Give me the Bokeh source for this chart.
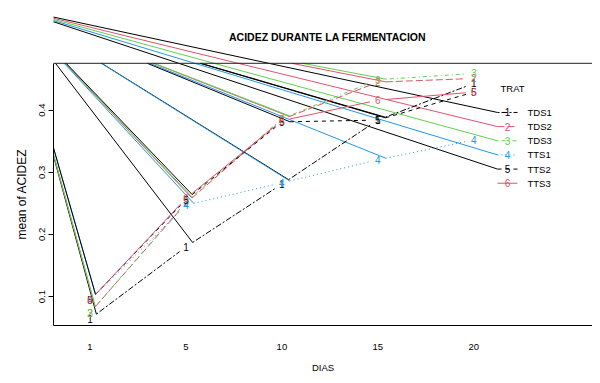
import math
from bokeh.plotting import figure
from bokeh.models import Span, Title, ColumnDataSource
from bokeh.embed import file_html
from bokeh.resources import INLINE
from bokeh.core.properties import value

# ---------------- data ----------------
DIAS = ["1", "5", "10", "15", "20"]
TRAT = ["TDS1", "TDS2", "TDS3", "TTS1", "TTS2", "TTS3"]
PCH = ["1", "2", "3", "4", "5", "6"]
TDS1 = [0.064, 0.180, 0.281, 0.384, 0.443]
TDS2 = [0.074, 0.250, 0.385, 0.445, 0.451]
TDS3 = [0.074, 0.252, 0.386, 0.449, 0.459]
TTS1 = [0.094, 0.247, 0.283, 0.320, 0.352]
TTS2 = [0.094, 0.256, 0.381, 0.384, 0.429]
TTS3 = [0.094, 0.258, 0.383, 0.416, 0.429]
Y_TICKS = [0.1, 0.2, 0.3, 0.4]
SERIES = [TDS1, TDS2, TDS3, TTS1, TTS2, TTS3]

# ---------------- styles ----------------
COLORS = ["#000000", "#DF536B", "#61D04F", "#2297E6", "#000000", "#DF536B"]
DASHES = ["2 2 6 2", "7 3", "1 3 4 3", "1 3", "4 4", "solid"]
FONT = "Liberation Sans"

W, H = 592, 375
BL, BT, BR, BB = 53, 0, 0, 49
FW, FH = W - BL - BR, H - BT - BB
PXX, PXY = 95.95, 623.3            # pixels per x-position / per y-unit
X0 = 0.6196
X1 = X0 + FW / PXX
Y0 = 0.0534
Y1 = Y0 + FH / PXY
BOX_TOP_PX = 63
YBOX = Y1 - (BOX_TOP_PX - BT) / PXY


def px(xc, yc):
    """canvas pixel -> data coordinates (layout helper)"""
    return X0 + (xc - BL) / PXX, Y1 - (yc - BT) / PXY


OX, OY = px(13, 8)                  # the point all dashed paths start from
GAP = 8.0

p = figure(width=W, height=H, x_range=(X0, X1), y_range=(Y0, Y1),
           output_backend="svg", toolbar_location=None,
           min_border_left=BL, min_border_top=BT, min_border_right=BR,
           min_border_bottom=BB, background_fill_color="white",
           border_fill_color="white")
p.outline_line_color = None
p.xgrid.visible = False
p.ygrid.visible = False

# ---------------- series segments (type = "b") ----------------
seg_lines = []
origin_lines = {"x0": [], "y0": [], "x1": [], "y1": [], "c": []}
for s, vals in enumerate(SERIES):
    d = {"x0": [], "y0": [], "x1": [], "y1": []}
    for k in range(len(vals) - 1):
        xa, ya, xb, yb = k + 1, vals[k], k + 2, vals[k + 1]
        dxp, dyp = (xb - xa) * PXX, (yb - ya) * PXY
        L = math.hypot(dxp, dyp)
        ux, uy = dxp / L, dyp / L
        sx, sy = xa + GAP * ux / PXX, ya + GAP * uy / PXY
        ex, ey = xb - GAP * ux / PXX, yb - GAP * uy / PXY
        d["x0"].append(sx); d["y0"].append(sy)
        d["x1"].append(ex); d["y1"].append(ey)
        if DASHES[s] != "solid":
            # stray path from the corner, clipped to the plot box
            t = (YBOX - OY) / (sy - OY)
            cx = OX + t * (sx - OX)
            origin_lines["x0"].append(cx); origin_lines["y0"].append(YBOX)
            origin_lines["x1"].append(sx); origin_lines["y1"].append(sy)
            origin_lines["c"].append(COLORS[s])
    seg_lines.append(d)

# ---------------- legend geometry ----------------
LEG_X0, LEG_X1, LEG_XT, LEG_TOP, LEG_STEP = 497, 517, 527, 112.3, 14.2
leg_rows = []
for i in range(len(TRAT)):
    yc = LEG_TOP + i * LEG_STEP
    xa, yy = px(LEG_X0, yc)
    xb, _ = px(LEG_X1, yc)
    xm, _ = px((LEG_X0 + LEG_X1) / 2, yc)
    xt, _ = px(LEG_XT, yc)
    leg_rows.append((xa, xb, xm, xt, yy))
    if DASHES[i] != "solid":
        origin_lines["x0"].append(OX); origin_lines["y0"].append(OY)
        origin_lines["x1"].append(xa); origin_lines["y1"].append(yy)
        origin_lines["c"].append(COLORS[i])

p.segment(x0="x0", y0="y0", x1="x1", y1="y1", line_color="c", line_width=1,
          source=ColumnDataSource(origin_lines))
for s, d in enumerate(seg_lines):
    p.segment(x0="x0", y0="y0", x1="x1", y1="y1", source=ColumnDataSource(d),
              line_color=COLORS[s], line_width=1, line_dash=DASHES[s])

lab = {"x": [], "y": [], "t": [], "c": []}
for s, vals in enumerate(SERIES):
    for k, v in enumerate(vals):
        lab["x"].append(k + 1); lab["y"].append(v)
        lab["t"].append(PCH[s]); lab["c"].append(COLORS[s])
p.text(x="x", y="y", text="t", text_color="c", source=ColumnDataSource(lab),
       text_font=value(FONT), text_font_size="10px",
       text_align="center", text_baseline="middle")

tx, ty = px(500, 88)
p.text(x=[tx], y=[ty], text=["TRAT"], text_font=value(FONT),
       text_font_size="9.5px", text_align="left",
       text_baseline="middle", text_color="black")
for i, name in enumerate(TRAT):
    xa, xb, xm, xt, yy = leg_rows[i]
    p.segment(x0=[xa], y0=[yy], x1=[xb], y1=[yy], line_color=COLORS[i],
              line_width=1, line_dash=DASHES[i])
    p.text(x=[xm], y=[yy], text=[PCH[i]], text_color=COLORS[i],
           text_font=value(FONT), text_font_size="10px",
           text_align="center", text_baseline="middle")
    p.text(x=[xt], y=[yy], text=[name], text_color="black",
           text_font=value(FONT), text_font_size="9.5px",
           text_align="left", text_baseline="middle")

# ---------------- title (inside the tall frame) ----------------
tx, ty = px(327, 37)
p.text(x=[tx], y=[ty], text=["ACIDEZ DURANTE LA FERMENTACION"],
       text_font=value(FONT), text_font_size="10.5px",
       text_font_style="bold", text_align="center",
       text_baseline="middle", text_color="black")

# ---------------- box / axes ----------------
p.add_layout(Span(location=YBOX, dimension="width", line_color="#222222",
                  line_width=1))

xa_ = p.xaxis[0]
xa_.ticker = list(range(1, len(DIAS) + 1))
xa_.major_label_overrides = {i + 1: t for i, t in enumerate(DIAS)}
xa_.major_tick_out = 0
xa_.major_tick_in = 0
xa_.minor_tick_line_color = None
xa_.major_label_standoff = 18
xa_.major_label_text_font = FONT
xa_.major_label_text_font_size = "9.5px"
xa_.major_label_text_color = "black"
xa_.axis_label = "DIAS"
xa_.axis_label_standoff = 9
xa_.axis_label_text_font = FONT
xa_.axis_label_text_font_size = "9.5px"
xa_.axis_label_text_font_style = "normal"
xa_.axis_label_text_color = "black"
xa_.axis_line_color = "black"

ya_ = p.yaxis[0]
ya_.ticker = Y_TICKS
ya_.bounds = (Y0, YBOX)
ya_.major_label_orientation = "vertical"
ya_.major_tick_out = 5
ya_.major_tick_in = 0
ya_.minor_tick_line_color = None
ya_.major_label_standoff = 3
ya_.major_label_text_font = FONT
ya_.major_label_text_font_size = "9.5px"
ya_.major_label_text_color = "black"
ya_.axis_line_color = "black"

ylab = Title(text="mean of  ACIDEZ", align="left", offset=86,
             text_font=FONT, text_font_size="12px", text_font_style="normal",
             text_color="black", standoff=16)
p.add_layout(ylab, "left")

open("out.html", "w").write(file_html(p, INLINE))
